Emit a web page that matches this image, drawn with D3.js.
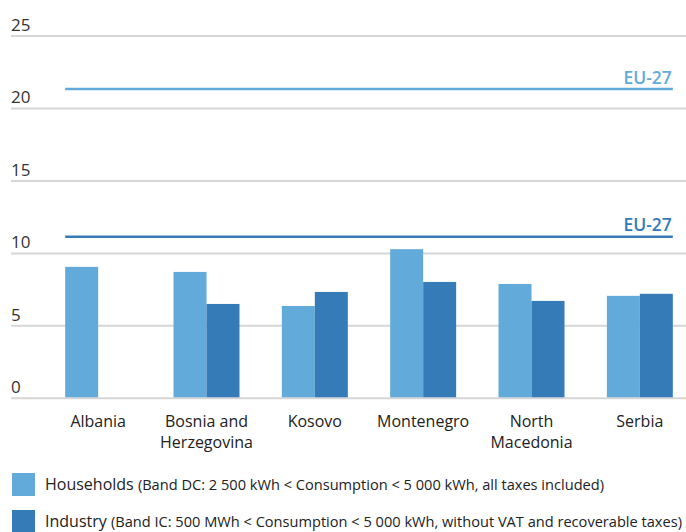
<!DOCTYPE html>
<html><head><meta charset="utf-8">
<script src="https://cdn.jsdelivr.net/npm/d3@7"></script>
<style>body{margin:0;background:#fff}svg{display:block}text{font-family:"Open Sans","Noto Sans",sans-serif}</style>
</head><body><svg id="c" width="686" height="532"></svg>
<script>
const categories = [["Albania"],["Bosnia and","Herzegovina"],["Kosovo"],["Montenegro"],["North","Macedonia"],["Serbia"]];
const households = [9.07, 8.72, 6.37, 10.29, 7.89, 7.07];
const industry = [null, 6.51, 7.34, 8.03, 6.72, 7.21];
const euHouseholds = 21.34;
const euIndustry = 11.14;
const yTicks = [0,5,10,15,20,25];
const seriesNames = ["households","industry"];
const colors = {households:"#62aad9", industry:"#357bb8"};

const svg = d3.select("#c");
const y = d3.scaleLinear().domain([0,25]).range([398.3,36]);
const x0 = d3.scaleBand().domain(categories.map((c,i)=>i)).range([44,694]).paddingInner(0.391).paddingOuter(0.1955);
const x1 = d3.scaleBand().domain(seriesNames).range([0,x0.bandwidth()]);

// grid
svg.append("g").selectAll("line").data(yTicks).join("line")
  .attr("x1",11).attr("x2",686).attr("y1",d=>y(d)).attr("y2",d=>y(d))
  .attr("stroke","#d6d6d6").attr("stroke-width",2);
svg.append("g").selectAll("text").data(yTicks).join("text")
  .attr("x",11).attr("y",d=>y(d)-5).text(d=>d)
  .attr("font-size",17).attr("fill","#333");

// bars
const data = categories.map((c,i)=>({i, households:households[i], industry:industry[i]}));
const g = svg.append("g").selectAll("g").data(data).join("g").attr("transform",d=>`translate(${x0(d.i)},0)`);
g.selectAll("rect").data(d=>seriesNames.filter(s=>d[s]!=null).map(s=>({s,v:d[s]}))).join("rect")
  .attr("x",d=>x1(d.s)).attr("width",x1.bandwidth())
  .attr("y",d=>y(d.v)).attr("height",d=>y(0)-y(d.v)-1)
  .attr("fill",d=>colors[d.s]);

// EU lines
const xl = x0.range()[0] + x0.step()*x0.paddingOuter();
const xr = x0(categories.length-1)+x0.bandwidth();
[[euHouseholds,colors.households],[euIndustry,colors.industry]].forEach(([v,c])=>{
  svg.append("line").attr("x1",xl).attr("x2",xr).attr("y1",y(v)).attr("y2",y(v)).attr("stroke",c).attr("stroke-width",2.5);
  svg.append("text").attr("x",xr-1).attr("y",y(v)-5.5).attr("text-anchor","end")
    .attr("font-size",17.5).attr("font-weight",600).attr("fill",c).text("EU-27");
});

// category labels
svg.append("g").selectAll("text").data(categories).join("text")
  .attr("x",(d,i)=>x0(i)+x0.bandwidth()/2).attr("y",427)
  .attr("text-anchor","middle").attr("font-size",16).attr("fill","#222")
  .each(function(d){ d3.select(this).selectAll("tspan").data(d).join("tspan")
    .attr("x",d3.select(this).attr("x")).attr("dy",(t,j)=>j?20.5:0).text(t=>t); });

// legend
const legend = [
  ["households","Households","(Band DC: 2 500 kWh < Consumption < 5 000 kWh, all taxes included)",473],
  ["industry","Industry","(Band IC: 500 MWh < Consumption < 5 000 kWh, without VAT and recoverable taxes)",510]
];
legend.forEach(([k,name,desc,top])=>{
  svg.append("rect").attr("x",12).attr("y",top).attr("width",23).attr("height",23).attr("fill",colors[k]);
  const t = svg.append("text").attr("x",45).attr("y",top+17).attr("fill","#222");
  t.append("tspan").attr("font-size",16).text(name+" ");
  t.append("tspan").attr("font-size",14.6).text(desc);
});
</script></body></html>
